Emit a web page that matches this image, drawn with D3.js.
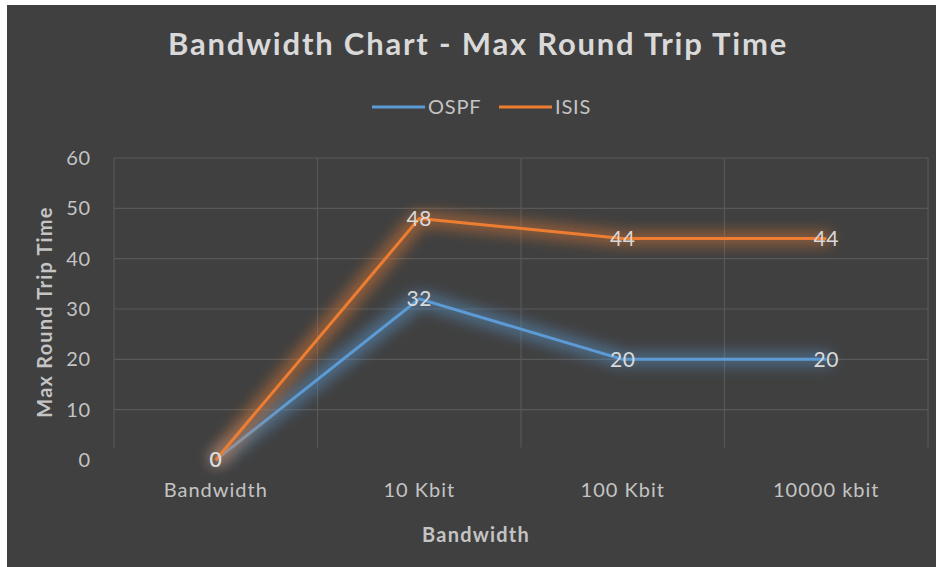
<!DOCTYPE html>
<html><head><meta charset="utf-8">
<script src="https://cdn.jsdelivr.net/npm/d3@7"></script>
<style>html,body{margin:0;padding:0;background:#fff;}svg{display:block;}</style>
</head><body>
<script>
const categories = ["Bandwidth", "10 Kbit", "100 Kbit", "10000 kbit"];
const ospf = [0, 32, 20, 20];
const isis = [0, 48, 44, 44];
const yTicks = [0, 10, 20, 30, 40, 50, 60];
const seriesNames = ["OSPF", "ISIS"];
const colors = ["#5B9BD5", "#ED7D31"];
const titleText = "Bandwidth Chart - Max Round Trip Time";
const xTitle = "Bandwidth";
const yTitle = "Max Round Trip Time";

const W = 936, H = 567;
const svg = d3.select("body").append("svg").attr("width", W).attr("height", H);
const font = "Lato, 'Open Sans', sans-serif";

svg.append("rect").attr("x", 7).attr("y", 5).attr("width", W - 7).attr("height", H - 5).attr("fill", "#404040");

const defs = svg.append("defs");
colors.forEach((c, i) => {
  const f = defs.append("filter").attr("id", "glow" + i).attr("x", "-20%").attr("y", "-50%").attr("width", "140%").attr("height", "200%");
  f.append("feMorphology").attr("in", "SourceGraphic").attr("operator", "dilate").attr("radius", 5).attr("result", "d");
  f.append("feGaussianBlur").attr("in", "d").attr("stdDeviation", 7).attr("result", "b");
  f.append("feComponentTransfer").attr("in", "b").attr("result", "bo")
    .append("feFuncA").attr("type", "linear").attr("slope", 0.5);
  const m = f.append("feMerge");
  m.append("feMergeNode").attr("in", "bo");
  m.append("feMergeNode").attr("in", "SourceGraphic");
});

const x = d3.scaleBand().domain(categories).range([114, 928]).padding(0);
const y = d3.scaleLinear().domain([0, 60]).range([460, 158]);
const cx = d => x(d) + x.bandwidth() / 2;

const grid = svg.append("g");
grid.selectAll("line.h").data(yTicks.filter(t => t > 0)).join("line")
  .attr("x1", 114).attr("x2", 928).attr("y1", d => y(d)).attr("y2", d => y(d))
  .attr("stroke", "#585858").attr("stroke-width", 1.2);
const bounds = categories.map(c => x(c)).concat([x.range()[1]]);
grid.selectAll("line.v").data(bounds).join("line")
  .attr("x1", d => d).attr("x2", d => d).attr("y1", y(60)).attr("y2", y(2.5))
  .attr("stroke", "#585858").attr("stroke-width", 1.2);

// y tick labels
svg.append("g").selectAll("text").data(yTicks).join("text")
  .attr("x", 91).attr("y", d => y(d)).attr("dy", "0.35em").attr("text-anchor", "end")
  .attr("font-family", font).attr("font-size", 20).attr("letter-spacing", 0.8).attr("fill", "#c4c4c4").text(d => d);

// x tick labels
svg.append("g").selectAll("text").data(categories).join("text")
  .attr("x", d => cx(d)).attr("y", 490).attr("dy", "0.35em").attr("text-anchor", "middle")
  .attr("font-family", font).attr("font-size", 20).attr("letter-spacing", 1).attr("fill", "#c4c4c4").text(d => d);

// titles
svg.append("text").attr("x", 478).attr("y", 44).attr("dy", "0.35em").attr("text-anchor", "middle")
  .attr("font-family", font).attr("font-weight", "bold").attr("font-size", 31).attr("letter-spacing", 1.8).attr("fill", "#d9d9d9").text(titleText);
svg.append("text").attr("x", 476).attr("y", 535).attr("dy", "0.35em").attr("text-anchor", "middle")
  .attr("font-family", font).attr("font-weight", "bold").attr("font-size", 20).attr("letter-spacing", 1.2).attr("fill", "#c4c4c4").text(xTitle);
svg.append("text").attr("transform", "translate(45,312) rotate(-90)").attr("dy", "0.35em").attr("text-anchor", "middle")
  .attr("font-family", font).attr("font-weight", "bold").attr("font-size", 20).attr("letter-spacing", 1.2).attr("fill", "#c4c4c4").text(yTitle);

// lines
const data = [ospf, isis];
const line = d3.line().x((d, i) => cx(categories[i])).y(d => y(d));
data.forEach((vals, i) => {
  svg.append("path").datum(vals).attr("d", line).attr("fill", "none")
    .attr("stroke", colors[i]).attr("stroke-width", 3).attr("stroke-linejoin", "round")
    .attr("filter", "url(#glow" + i + ")");
});
data.forEach((vals, i) => {
  svg.append("g").selectAll("text").data(vals).join("text")
    .attr("x", (d, j) => cx(categories[j])).attr("y", d => y(d)).attr("dy", "0.35em").attr("text-anchor", "middle")
    .attr("font-family", font).attr("font-size", 21).attr("letter-spacing", 0.5).attr("fill", "#d9d9d9").text(d => d);
});

// legend
const leg = svg.append("g");
const legX = [372, 499];
seriesNames.forEach((n, i) => {
  leg.append("line").attr("x1", legX[i]).attr("x2", legX[i] + 53).attr("y1", 107).attr("y2", 107)
    .attr("stroke", colors[i]).attr("stroke-width", 3);
  leg.append("text").attr("x", legX[i] + 56).attr("y", 107).attr("dy", "0.35em")
    .attr("font-family", font).attr("font-size", 20).attr("letter-spacing", 0.8).attr("fill", "#c4c4c4").text(n);
});
</script>
</body></html>
